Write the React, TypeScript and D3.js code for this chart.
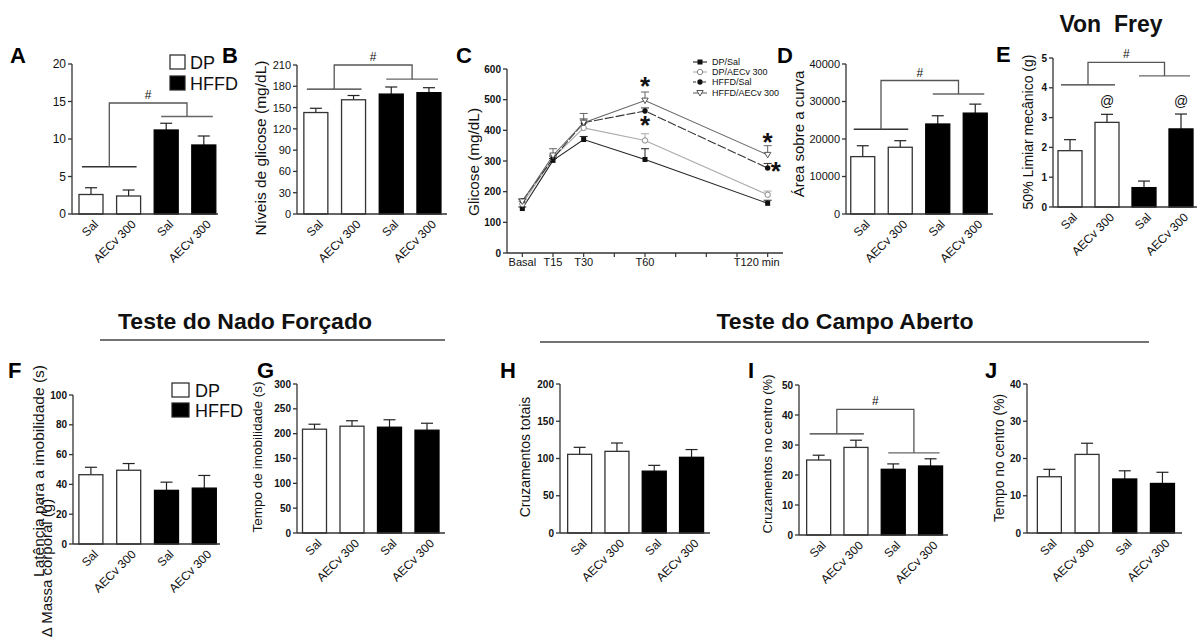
import React from "react";
import * as d3 from "d3";

const FONT = "'Liberation Sans', Arial, Helvetica, sans-serif";

// ---------- data ----------
const categories = ["Sal", "AECv 300", "Sal", "AECv 300"];
const groupFill = ["white", "white", "black", "black"];
const legendGroups = ["DP", "HFFD"];

const meanA = [2.6, 2.4, 11.2, 9.2];
const semA = [0.9, 0.8, 0.9, 1.2];
const meanB = [143, 161, 169, 171];
const semB = [6, 6, 10, 7];
const meanD = [15300, 17800, 24000, 26900];
const semD = [2900, 1750, 2200, 2400];
const meanE = [1.89, 2.84, 0.65, 2.62];
const semE = [0.37, 0.27, 0.22, 0.5];
const meanF = [46.5, 49.5, 36, 37.5];
const semF = [5, 4.5, 5.5, 8.5];
const meanG = [209, 215, 213, 207];
const semG = [10, 11, 15, 14];
const meanH = [105.6, 109.6, 83, 101.6];
const semH = [9.4, 11.2, 7.8, 10.4];
const meanI = [25, 29.2, 21.9, 23];
const semI = [1.6, 2.4, 1.8, 2.4];
const meanJ = [15.1, 21.1, 14.5, 13.3];
const semJ = [2, 3, 2.2, 3];

// significance brackets (values in data units)
const bracketA = { left: 6.3, right: 13, top: 14.8, mark: "#" };
const bracketB = { left: 176, right: 190, top: 210, mark: "#" };
const bracketD = { left: 22600, right: 32000, top: 35600, mark: "#" };
const bracketE = { left: 4.1, right: 4.4, top: 4.85, mark: "#" };
const bracketI = { left: 33.7, right: 27.4, top: 41.9, mark: "#" };
const atMarksE = [1, 3];

// panel C: glucose tolerance test
const timeMinutes = [0, 15, 30, 60, 120];
const timeTicks = [0, 15, 30, 45, 60, 75, 90, 105, 120];
const timeLabelValues = [0, 15, 30, 60, 120];
const timeLabelTexts = ["Basal", "T15", "T30", "T60", "T120 min"];
const glucoseTicks = [0, 100, 200, 300, 400, 500, 600];
const seriesNames = ["DP/Sal", "DP/AECv 300", "HFFD/Sal", "HFFD/AECv 300"];
const gDPSal = [145, 302, 370, 305, 162];
const gDPSalSem = [5, 6, 10, 35, 10];
const gDPAECv = [160, 310, 408, 367, 190];
const gDPAECvSem = [8, 10, 15, 22, 12];
const gHFFDSal = [170, 308, 425, 463, 277];
const gHFFDSalSem = [6, 8, 12, 10, 15];
const gHFFDAECv = [168, 318, 425, 497, 320];
const gHFFDAECvSem = [6, 22, 30, 28, 30];
const asteriskTimes = [60, 60, 120, 124];
const asteriskValues = [554, 427, 372, 277];

// ---------- layout ----------
type Cfg = {
  axisX: number; bandStart: number; step: number; axisEnd: number;
  yTop: number; yBottom: number; max: number; tickStep: number;
  bold: boolean; tickFs: number;
  label?: string; labelX?: number; labelY?: number; labelFs?: number;
};

const cfgA: Cfg = { axisX: 72, bandStart: 72.2, step: 37.6, axisEnd: 218, yTop: 64, yBottom: 214, max: 20, tickStep: 5, bold: false, tickFs: 12 };
const cfgB: Cfg = { axisX: 297, bandStart: 297, step: 37.7, axisEnd: 447, yTop: 65, yBottom: 214, max: 210, tickStep: 30, bold: false, tickFs: 11, label: "Níveis de glicose (mg/dL)", labelX: 262, labelY: 148, labelFs: 15.5 };
const cfgD: Cfg = { axisX: 846, bandStart: 844, step: 37.5, axisEnd: 993, yTop: 64, yBottom: 214, max: 40000, tickStep: 10000, bold: false, tickFs: 11, label: "Área sobre a curva", labelX: 800, labelY: 134, labelFs: 15 };
const cfgE: Cfg = { axisX: 1053, bandStart: 1051.5, step: 37, axisEnd: 1197, yTop: 58, yBottom: 207, max: 5, tickStep: 1, bold: true, tickFs: 10, label: "50% Limiar mecânico (g)", labelX: 1029, labelY: 132, labelFs: 14 };
const cfgF: Cfg = { axisX: 73, bandStart: 72, step: 37.8, axisEnd: 220, yTop: 395, yBottom: 544, max: 100, tickStep: 20, bold: true, tickFs: 10 };
const cfgG: Cfg = { axisX: 297, bandStart: 295.75, step: 37.5, axisEnd: 445, yTop: 384, yBottom: 533, max: 300, tickStep: 50, bold: true, tickFs: 10, label: "Tempo de imobilidade (s)", labelX: 259, labelY: 457, labelFs: 13.5 };
const cfgH: Cfg = { axisX: 560, bandStart: 561, step: 37.3, axisEnd: 710, yTop: 384, yBottom: 533, max: 200, tickStep: 50, bold: true, tickFs: 10, label: "Cruzamentos totais", labelX: 526, labelY: 457, labelFs: 14 };
const cfgI: Cfg = { axisX: 799, bandStart: 800, step: 37.3, axisEnd: 948, yTop: 385, yBottom: 535, max: 50, tickStep: 10, bold: true, tickFs: 10, label: "Cruzamentos no centro (%)", labelX: 769, labelY: 454, labelFs: 13 };
const cfgJ: Cfg = { axisX: 1027, bandStart: 1030.5, step: 37.7, axisEnd: 1182, yTop: 384, yBottom: 533, max: 40, tickStep: 10, bold: true, tickFs: 10, label: "Tempo no centro (%)", labelX: 1001, labelY: 458, labelFs: 13.8 };

const AXIS = "#333";

function YLabel({ text, cx, cy, fs }: { text: string; cx: number; cy: number; fs: number }) {
  const bx = cx + 0.25 * fs;
  return (
    <text transform={`translate(${bx},${cy}) rotate(-90)`} textAnchor="middle" fontSize={fs} fontFamily={FONT} fill="#111">
      {text}
    </text>
  );
}

type Bracket = { left: number; right: number; top: number; mark: string };

function BarPanel({ cfg, mean, sem, bracket, atMarks }: { cfg: Cfg; mean: number[]; sem: number[]; bracket?: Bracket; atMarks?: number[] }) {
  const x = d3.scaleBand<number>().domain([0, 1, 2, 3]).range([cfg.bandStart, cfg.bandStart + 4 * cfg.step]).padding(0);
  const y = d3.scaleLinear().domain([0, cfg.max]).range([cfg.yBottom, cfg.yTop]);
  const ticks = d3.range(0, cfg.max + cfg.tickStep / 2, cfg.tickStep);
  const cx = (i: number) => (x(i) as number) + x.bandwidth() / 2;
  const bw = 24;
  const cap = 6;
  let br: React.ReactNode = null;
  if (bracket) {
    const l1 = cx(0) - 9, l2 = cx(1) + 8, r1 = cx(2) - 5, r2 = cx(3) + 9;
    const lm = (l1 + l2) / 2, rm = (r1 + r2) / 2;
    const yl = y(bracket.left), yr = y(bracket.right), yt = y(bracket.top);
    br = (
      <g fill="none" strokeWidth={1.3}>
        <line x1={l1} x2={l2} y1={yl} y2={yl} stroke="#333" />
        <line x1={r1} x2={r2} y1={yr} y2={yr} stroke="#666" />
        <path d={`M${lm},${yl}V${yt}H${rm}V${yr}`} stroke="#555" />
        <text x={(lm + rm) / 2} y={yt - 4} textAnchor="middle" fontSize={12} fontFamily={FONT} fill="#111" stroke="none">{bracket.mark}</text>
      </g>
    );
  }
  return (
    <g>
      {mean.map((m, i) => (
        <g key={i}>
          <line x1={cx(i)} x2={cx(i)} y1={y(m)} y2={y(m + sem[i])} stroke="#222" strokeWidth={1.2} />
          <line x1={cx(i) - cap} x2={cx(i) + cap} y1={y(m + sem[i])} y2={y(m + sem[i])} stroke="#222" strokeWidth={1.2} />
          <rect x={cx(i) - bw / 2} y={y(m)} width={bw} height={y(0) - y(m)} fill={groupFill[i]} stroke={groupFill[i] === "black" ? "#000" : "#333"} strokeWidth={1.3} />
        </g>
      ))}
      <line x1={cfg.axisX} x2={cfg.axisX} y1={cfg.yTop} y2={cfg.yBottom} stroke={AXIS} strokeWidth={1.3} />
      <line x1={cfg.axisX} x2={cfg.axisEnd} y1={cfg.yBottom} y2={cfg.yBottom} stroke={AXIS} strokeWidth={1.3} />
      {ticks.map((t) => (
        <g key={t}>
          <line x1={cfg.axisX - 4} x2={cfg.axisX} y1={y(t)} y2={y(t)} stroke={AXIS} strokeWidth={1.3} />
          <text x={cfg.axisX - 6} y={y(t) + cfg.tickFs * 0.36} textAnchor="end" fontSize={cfg.tickFs} fontWeight={cfg.bold ? "bold" : "normal"} fontFamily={FONT} fill="#111">
            {String(t)}
          </text>
        </g>
      ))}
      {categories.map((c, i) => (
        <text key={i} transform={`translate(${cx(i) + 8},${cfg.yBottom + 11}) rotate(-45)`} textAnchor="end" fontSize={12} fontFamily={FONT} fill="#111">
          {c}
        </text>
      ))}
      {br}
      {atMarks &&
        atMarks.map((i) => (
          <text key={"at" + i} x={cx(i)} y={y(mean[i] + sem[i]) - 8} textAnchor="middle" fontSize={14} fontFamily={FONT} fill="#111">@</text>
        ))}
      {cfg.label && <YLabel text={cfg.label} cx={cfg.labelX!} cy={cfg.labelY!} fs={cfg.labelFs!} />}
    </g>
  );
}

function Legend({ x, y1, y2, w, h, tx, fs }: { x: number; y1: number; y2: number; w: number; h: number; tx: number; fs: number }) {
  return (
    <g>
      {legendGroups.map((g, i) => {
        const yy = i === 0 ? y1 : y2;
        return (
          <g key={g}>
            <rect x={x} y={yy} width={w} height={h} fill={i === 0 ? "white" : "black"} stroke="#222" strokeWidth={1.2} />
            <text x={tx} y={yy + h - 0.5} fontSize={fs} fontFamily={FONT} fill="#111">{g}</text>
          </g>
        );
      })}
    </g>
  );
}

function Marker({ kind, x, y }: { kind: number; x: number; y: number }) {
  if (kind === 0) return <rect x={x - 2.5} y={y - 2.5} width={5} height={5} fill="#111" />;
  if (kind === 1) return <circle cx={x} cy={y} r={2.7} fill="white" stroke="#888" strokeWidth={1} />;
  if (kind === 2) return <circle cx={x} cy={y} r={2.7} fill="#111" />;
  return <path d={`M${x - 3.2},${y - 2.5}H${x + 3.2}L${x},${y + 3}Z`} fill="white" stroke="#555" strokeWidth={1} />;
}

function PanelC() {
  const xT = d3.scaleLinear().domain([-7.5, 127.5]).range([507, 783]);
  const yG = d3.scaleLinear().domain([0, 600]).range([253, 69]);
  const series = [gDPSal, gDPAECv, gHFFDSal, gHFFDAECv];
  const sems = [gDPSalSem, gDPAECvSem, gHFFDSalSem, gHFFDAECvSem];
  const colors = ["#222", "#aaa", "#333", "#666"];
  const dashes = ["", "", "9,2", ""];
  const line = d3.line<number>().x((_, i) => xT(timeMinutes[i])).y((d) => yG(d));
  const legY = [62, 72, 82, 93];
  return (
    <g>
      {series.map((s, k) => (
        <g key={k}>
          {s.map((v, i) => (
            <g key={i}>
              <line x1={xT(timeMinutes[i])} x2={xT(timeMinutes[i])} y1={yG(v)} y2={yG(v + sems[k][i])} stroke={colors[k]} strokeWidth={1} />
              <line x1={xT(timeMinutes[i]) - 4} x2={xT(timeMinutes[i]) + 4} y1={yG(v + sems[k][i])} y2={yG(v + sems[k][i])} stroke={colors[k]} strokeWidth={1} />
            </g>
          ))}
          <path d={line(s) || ""} fill="none" stroke={colors[k]} strokeWidth={1.1} strokeDasharray={dashes[k]} />
        </g>
      ))}
      {series.map((s, k) => (
        <g key={"m" + k}>
          {s.map((v, i) => <Marker key={i} kind={k} x={xT(timeMinutes[i])} y={yG(v)} />)}
        </g>
      ))}
      <line x1={507} x2={507} y1={yG(600)} y2={yG(0)} stroke={AXIS} strokeWidth={1.3} />
      <line x1={507} x2={783} y1={yG(0)} y2={yG(0)} stroke={AXIS} strokeWidth={1.3} />
      {glucoseTicks.map((t) => (
        <g key={t}>
          <line x1={503} x2={507} y1={yG(t)} y2={yG(t)} stroke={AXIS} strokeWidth={1.3} />
          <text x={501} y={yG(t) + 3.6} textAnchor="end" fontSize={10} fontWeight="bold" fontFamily={FONT} fill="#111">{t}</text>
        </g>
      ))}
      {timeTicks.map((t) => (
        <line key={t} x1={xT(t)} x2={xT(t)} y1={yG(0)} y2={yG(0) + 4} stroke={AXIS} strokeWidth={1.2} />
      ))}
      {timeLabelValues.map((t, i) => (
        <text key={t} x={xT(t) - (i === 4 ? 11 : 0)} y={266} textAnchor="middle" fontSize={11} fontFamily={FONT} fill="#111">{timeLabelTexts[i]}</text>
      ))}
      {asteriskTimes.map((t, i) => (
        <text key={i} x={xT(t)} y={yG(asteriskValues[i]) + 12} textAnchor="middle" fontSize={26} fontWeight="bold" fontFamily={FONT} fill="#111">*</text>
      ))}
      {seriesNames.map((n, k) => (
        <g key={n}>
          <line x1={693} x2={707} y1={legY[k]} y2={legY[k]} stroke={colors[k]} strokeWidth={1.1} strokeDasharray={k === 2 ? "3,2" : ""} />
          <Marker kind={k} x={700} y={legY[k]} />
          <text x={712} y={legY[k] + 3} fontSize={9} fontFamily={FONT} fill="#111">{n}</text>
        </g>
      ))}
      <YLabel text="Glicose (mg/dL)" cx={475} cy={162} fs={15.3} />
    </g>
  );
}

const panelLetters = [
  { t: "A", x: 10, y: 63 }, { t: "B", x: 222, y: 63 }, { t: "C", x: 456, y: 63 },
  { t: "D", x: 777, y: 63 }, { t: "E", x: 996, y: 62 },
  { t: "F", x: 8, y: 378 }, { t: "G", x: 257, y: 378 }, { t: "H", x: 500, y: 378 },
  { t: "I", x: 748, y: 378 }, { t: "J", x: 985, y: 378 },
];

export default function App() {
  return (
    <svg width={1198} height={637} style={{ position: "absolute", left: 0, top: 0, background: "white" }}>
      <rect width={1198} height={637} fill="white" />
      {panelLetters.map((p) => (
        <text key={p.t} x={p.x} y={p.y} fontSize={22} fontWeight="bold" fontFamily={FONT} fill="#000">{p.t}</text>
      ))}
      <text x={1111} y={32} textAnchor="middle" fontSize={23} fontWeight="bold" fontFamily={FONT} fill="#111" style={{ whiteSpace: "pre" }}>{"Von  Frey"}</text>

      <BarPanel cfg={cfgA} mean={meanA} sem={semA} bracket={bracketA} />
      <Legend x={170} y1={55} y2={76} w={15} h={14} tx={190} fs={18} />
      <BarPanel cfg={cfgB} mean={meanB} sem={semB} bracket={bracketB} />
      <PanelC />
      <BarPanel cfg={cfgD} mean={meanD} sem={semD} bracket={bracketD} />
      <BarPanel cfg={cfgE} mean={meanE} sem={semE} bracket={bracketE} atMarks={atMarksE} />

      <text x={245} y={329} textAnchor="middle" fontSize={22} fontWeight="bold" fontFamily={FONT} fill="#111" textLength={254} lengthAdjust="spacingAndGlyphs">Teste do Nado Forçado</text>
      <line x1={100} x2={445} y1={340} y2={340} stroke="#444" strokeWidth={1.5} />
      <text x={845} y={329} textAnchor="middle" fontSize={22} fontWeight="bold" fontFamily={FONT} fill="#111" textLength={257} lengthAdjust="spacingAndGlyphs">Teste do Campo Aberto</text>
      <line x1={540} x2={1149} y1={342} y2={342} stroke="#444" strokeWidth={1.5} />

      <BarPanel cfg={cfgF} mean={meanF} sem={semF} />
      <Legend x={172} y1={383} y2={403} w={17} h={14} tx={195} fs={18} />
      <YLabel text="Latência para a imobilidade (s)" cx={40} cy={471} fs={15.5} />
      <YLabel text="Δ Massa corporal (g)" cx={48} cy={568} fs={15} />
      <BarPanel cfg={cfgG} mean={meanG} sem={semG} />
      <BarPanel cfg={cfgH} mean={meanH} sem={semH} />
      <BarPanel cfg={cfgI} mean={meanI} sem={semI} bracket={bracketI} />
      <BarPanel cfg={cfgJ} mean={meanJ} sem={semJ} />
    </svg>
  );
}
